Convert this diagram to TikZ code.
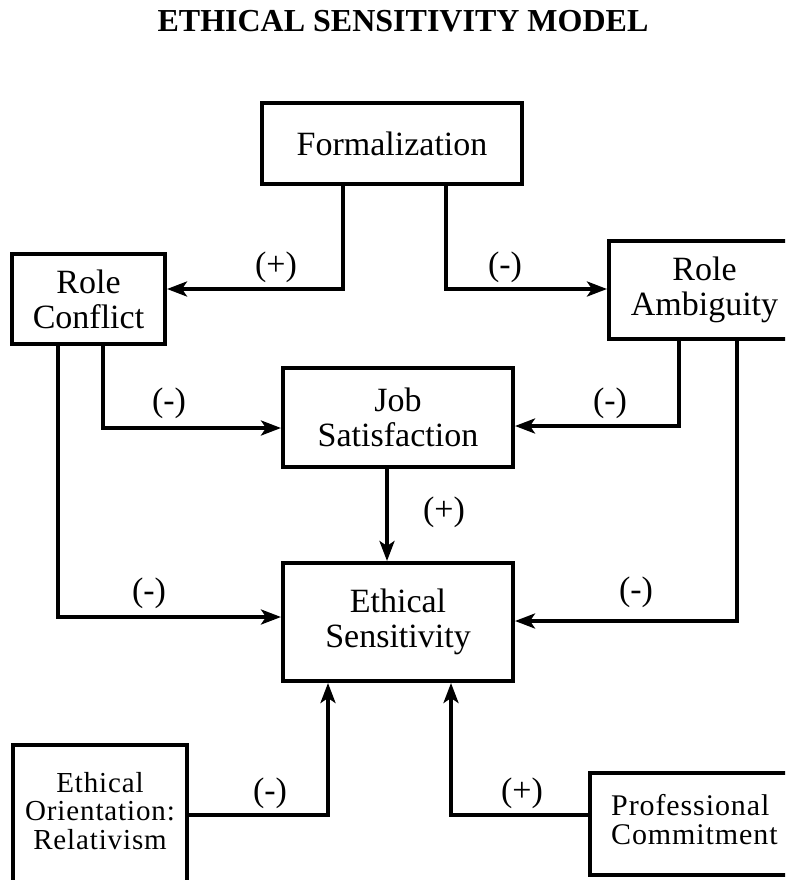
\documentclass[tikz,border=0pt]{standalone}
\usepackage{fontspec}
\setmainfont{Liberation Serif}
\newfontfamily\spacedserif[LetterSpace=3]{Liberation Serif}
\usetikzlibrary{arrows.meta}
\begin{document}
\begin{tikzpicture}[x=1pt,y=-1pt,
  box/.style={draw, line width=4pt, align=center, inner sep=0pt,
    font=\fontsize{34}{35}\selectfont},
  lowbox/.style={draw, line width=4pt, inner sep=0pt},
  lowtext/.style={inner sep=0pt},
  sign/.style={font=\fontsize{34}{35}\selectfont, inner sep=0pt},
  link/.style={line width=3.5pt, -{Stealth[length=20pt,width=15pt,inset=5pt]}},
]
\useasboundingbox (0,0) rectangle (785,880);
\clip (0,0) rectangle (785,880);

% title
\node[font=\bfseries\fontsize{32}{36}\selectfont, anchor=base] (title) at (403,32)
  {ETHICAL SENSITIVITY MODEL};

% constructs
\node[box, minimum width=260pt, minimum height=81pt] (form) at (392,143.5) {Formalization};
\node[box, minimum width=153pt, minimum height=90pt] (rc) at (88.5,299) {Role\\Conflict};
\node[box, minimum width=191pt, minimum height=98pt] (ra) at (704.5,290) {Role\\Ambiguity};
\node[box, minimum width=230pt, minimum height=99pt] (js) at (398,417.5) {Job\\Satisfaction};
\node[box, minimum width=230pt, minimum height=118pt] (es) at (398,622) {Ethical\\Sensitivity};
\node[lowbox, minimum width=174pt, minimum height=160pt] (eo) at (100,825) {};
\node[lowtext, align=center, font=\spacedserif\fontsize{29}{28.5}\selectfont] (eotext) at (100,811)
  {Ethical\\Orientation:\\Relativism};
\node[lowbox, minimum width=210pt, minimum height=102pt] (pc) at (695,824) {};
\node[lowtext, align=left, anchor=west, font=\spacedserif\fontsize{30}{29}\selectfont] (pctext) at (611,820)
  {Professional\\Commitment};

% bends of the connectors
\coordinate (fl) at (343,289);
\coordinate (fr) at (446,289);
\coordinate (rcj) at (103,428);
\coordinate (raj) at (679,426);
\coordinate (jse) at (387,0);
\coordinate (rce) at (58,617);
\coordinate (rae) at (737,621);
\coordinate (eoe) at (328,815);
\coordinate (pce) at (451,815);

% connectors
\draw[link] (form.south -| fl) -- (fl) -- (fl -| rc.east);
\draw[link] (form.south -| fr) -- (fr) -- (fr -| ra.west);
\draw[link] (rc.south -| rcj) -- (rcj) -- (rcj -| js.west);
\draw[link] (ra.south -| raj) -- (raj) -- (raj -| js.east);
\draw[link] (js.south -| jse) -- (es.north -| jse);
\draw[link] (rc.south -| rce) -- (rce) -- (rce -| es.west);
\draw[link] (ra.south -| rae) -- (rae) -- (rae -| es.east);
\draw[link] (eo.east |- eoe) -- (eoe) -- (es.south -| eoe);
\draw[link] (pc.west |- pce) -- (pce) -- (es.south -| pce);

% signs of the effects
\node[sign] (s1) at (276,267) {(+)};
\node[sign] (s2) at (505,267) {(-)};
\node[sign] (s3) at (169,403) {(-)};
\node[sign] (s4) at (610,403) {(-)};
\node[sign] (s5) at (444,512) {(+)};
\node[sign] (s6) at (149,593) {(-)};
\node[sign] (s7) at (636,592) {(-)};
\node[sign] (s8) at (270,793) {(-)};
\node[sign] (s9) at (522,793) {(+)};
\end{tikzpicture}
\end{document}
